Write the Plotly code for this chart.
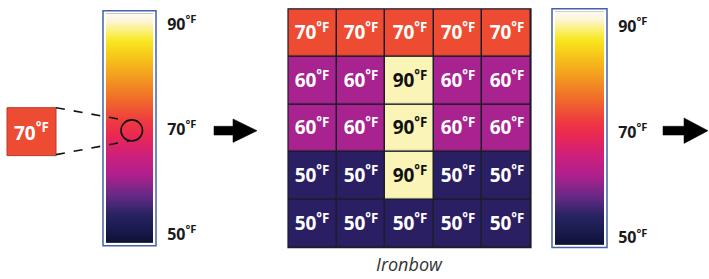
import plotly.graph_objects as go

# ---------------- data ----------------
grid_rows = [
    [70, 70, 70, 70, 70],
    [60, 60, 90, 60, 60],
    [60, 60, 90, 60, 60],
    [50, 50, 90, 50, 50],
    [50, 50, 50, 50, 50],
]
grid_cols = [0, 1, 2, 3, 4]
grid_row_idx = [0, 1, 2, 3, 4]
scale_ticks = [50, 70, 90]
scale_ticktext = ["50<sup>°F</sup>", "70<sup>°F</sup>", "90<sup>°F</sup>"]
left_scale_ends = [48.32, 92.06]     # temperatures at bottom / top of left scale bar
right_scale_ends = [48.7, 92.78]     # temperatures at bottom / top of right scale bar
sample_value = 70
palette_name = "Ironbow"
text_colors = {50: "#ffffff", 60: "#ffffff", 70: "#ffffff", 90: "#111111"}

# discrete colours of the quantised grid (value -> colour)
grid_colorscale = [
    [0.00, "#2b1f63"],   # 50
    [0.25, "#a8238f"],   # 60
    [0.50, "#ee4b33"],   # 70
    [1.00, "#faf5b6"],   # 90
]
ironbow = [
    [0.00, "#0e1034"],
    [0.04, "#161848"],
    [0.13, "#2a2464"],
    [0.20, "#602a84"],
    [0.30, "#b0208e"],
    [0.39, "#d0207a"],
    [0.47, "#ea2854"],
    [0.53, "#ee3a40"],
    [0.62, "#f0682c"],
    [0.72, "#f39a20"],
    [0.80, "#f6c01a"],
    [0.88, "#f8e61e"],
    [0.92, "#faf06a"],
    [0.97, "#fcf6d8"],
    [1.00, "#fdf9f2"],
]

W, H = 709, 279
FONT = "Open Sans"


def px(x):
    return x / W


def py(y):
    return 1 - y / H


cell_text = [[f"<span style='color:{text_colors[v]}'>{v}<sup>°F</sup></span>" for v in row]
             for row in grid_rows]

fig = go.Figure()

# quantised grid
fig.add_trace(go.Heatmap(
    z=grid_rows, x=grid_cols, y=grid_row_idx, text=cell_text,
    zmin=50, zmax=90, colorscale=grid_colorscale, showscale=False,
    xgap=1.5, ygap=1.5,
    texttemplate="%{text}",
    textfont=dict(family=FONT, size=19, weight="bold"),
    hoverinfo="skip",
))

# ironbow scale bars: smooth heatmaps interpolating between the two end temperatures
for ends, xa, ya in [(left_scale_ends, "x2", "y2"), (right_scale_ends, "x3", "y3")]:
    fig.add_trace(go.Heatmap(
        z=[[ends[0], ends[0]], [ends[1], ends[1]]], x=[0, 1], y=ends,
        zmin=ends[0], zmax=ends[1], colorscale=ironbow, zsmooth="best",
        showscale=False, hoverinfo="skip", xaxis=xa, yaxis=ya,
    ))


def scale_yaxis(ends, y0, y1):
    return dict(
        domain=[py(y1), py(y0)], range=ends, side="right",
        tickvals=scale_ticks, ticktext=scale_ticktext,
        ticks="outside", ticklen=10, tickcolor="rgba(0,0,0,0)",
        tickfont=dict(family=FONT, size=16, color="#1a1a1a", weight="bold"),
        showgrid=False, zeroline=False, showline=False, fixedrange=True,
    )


fig.update_layout(
    width=W, height=H,
    margin=dict(l=0, r=0, t=0, b=0),
    paper_bgcolor="white",
    plot_bgcolor="#1c1c2a",
    showlegend=False,
    xaxis=dict(domain=[px(288), px(531)], visible=False, range=[-0.5, 4.5], fixedrange=True),
    yaxis=dict(domain=[py(251), py(7)], visible=False, range=[4.5, -0.5], fixedrange=True),
    xaxis2=dict(domain=[px(106), px(153)], visible=False, range=[0, 1], fixedrange=True, anchor="y2"),
    yaxis2=dict(scale_yaxis(left_scale_ends, 12, 246), anchor="x2"),
    xaxis3=dict(domain=[px(555), px(604)], visible=False, range=[0, 1], fixedrange=True, anchor="y3"),
    yaxis3=dict(scale_yaxis(right_scale_ends, 10, 248), anchor="x3"),
)

shapes = []
# blue frames round the scales
for (x0, y0, x1, y1) in [(103, 9, 156, 249), (552, 7, 607, 251)]:
    shapes.append(dict(type="rect", xref="paper", yref="paper",
                       x0=px(x0), x1=px(x1), y0=py(y1), y1=py(y0),
                       line=dict(color="#4660aa", width=1.5)))
# grid outline
shapes.append(dict(type="rect", xref="paper", yref="paper",
                   x0=px(288), x1=px(531), y0=py(251), y1=py(7),
                   line=dict(color="#1c1c2a", width=1.2)))
# sample box
shapes.append(dict(type="rect", xref="paper", yref="paper",
                   x0=px(7), x1=px(56), y0=py(157), y1=py(108),
                   fillcolor="#ee4b33", line=dict(color="#b83a2a", width=1)))
# dashed leader lines
shapes.append(dict(type="line", xref="paper", yref="paper",
                   x0=px(56), y0=py(108), x1=px(126), y1=py(121),
                   line=dict(color="#111", width=1.6, dash="dash")))
shapes.append(dict(type="line", xref="paper", yref="paper",
                   x0=px(56), y0=py(156), x1=px(129), y1=py(142),
                   line=dict(color="#111", width=1.6, dash="dash")))
# circle
shapes.append(dict(type="circle", xref="paper", yref="paper",
                   x0=px(121), x1=px(142.5), y0=py(142), y1=py(120.5),
                   line=dict(color="#111", width=1.6)))


def arrow(x0, ym, shaft_len, head_len, shaft_h, head_h):
    xs = x0 + shaft_len
    xe = xs + head_len
    pts = [(x0, ym - shaft_h / 2), (xs, ym - shaft_h / 2), (xs, ym - head_h / 2),
           (xe, ym), (xs, ym + head_h / 2), (xs, ym + shaft_h / 2), (x0, ym + shaft_h / 2)]
    path = "M " + " L ".join(f"{px(a):.5f},{py(b):.5f}" for a, b in pts) + " Z"
    return dict(type="path", xref="paper", yref="paper", path=path,
                fillcolor="#000", line=dict(color="#000", width=0.5))


shapes.append(arrow(214, 131.5, 19, 24, 9, 24))
shapes.append(arrow(663, 131.5, 21, 24, 9, 26))
fig.update_layout(shapes=shapes)

annotations = [
    dict(x=px(31.5), y=py(132.5), xref="paper", yref="paper",
         xanchor="center", yanchor="middle",
         text=f"{sample_value}<sup>°F</sup>", showarrow=False,
         font=dict(family=FONT, size=19, color="white", weight="bold")),
    dict(x=px(409), y=py(268), xref="paper", yref="paper",
         xanchor="center", yanchor="middle",
         text=f"<i>{palette_name}</i>", showarrow=False,
         font=dict(family=FONT, size=18, color="#333")),
]
fig.update_layout(annotations=annotations)

fig.write_html("out.html", config={"displayModeBar": False, "staticPlot": True},
               post_script="document.body.style.margin='0';document.body.style.overflow='hidden';")
